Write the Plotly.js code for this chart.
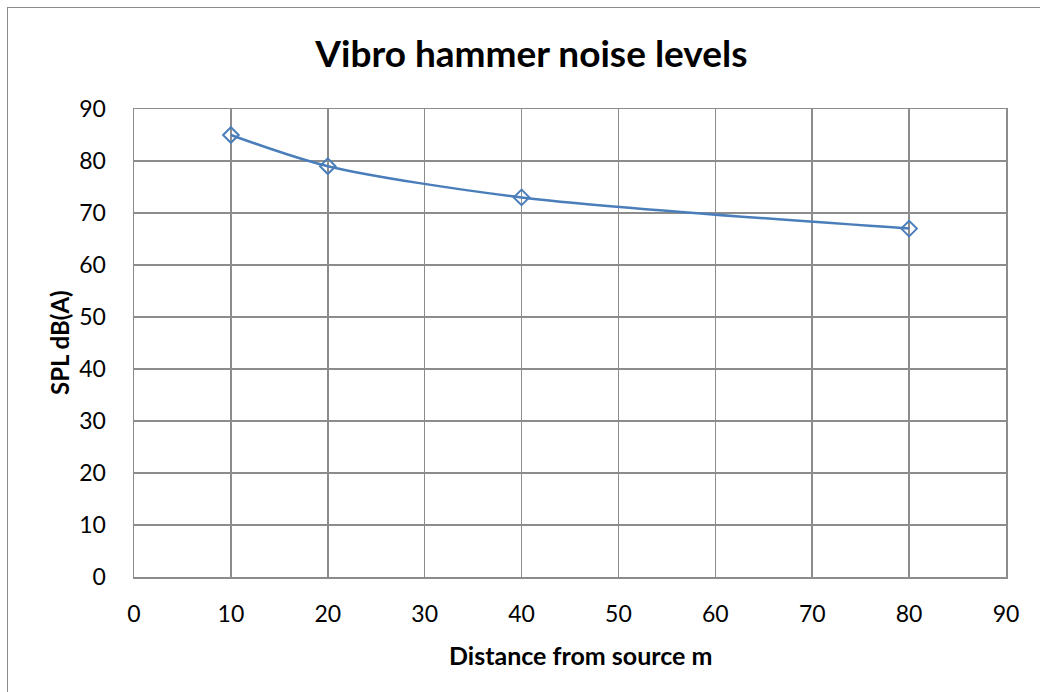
<!DOCTYPE html>
<html><head><meta charset="utf-8">
<script src="https://cdn.plot.ly/plotly-3.0.1.min.js"></script>
<style>
html,body{margin:0;padding:0;overflow:hidden;background:#fff;}
#frame{position:absolute;left:7px;top:7px;width:1200px;height:900px;border:1.5px solid #8c8c8c;box-sizing:border-box;}
#chart{position:absolute;left:0;top:0;width:1040px;height:692px;}
</style></head>
<body>
<div id="frame"></div>
<div id="chart"></div>
<script>
const distance = [10, 20, 40, 80];
const spl = [85, 79, 73, 67];
const xTicks = [0, 10, 20, 30, 40, 50, 60, 70, 80, 90];
const yTicks = [0, 10, 20, 30, 40, 50, 60, 70, 80, 90];
const chartTitle = 'Vibro hammer noise levels';
const xTitle = 'Distance from source m';
const yTitle = 'SPL dB(A)';

const font = "Lato, 'Open Sans', sans-serif";
const trace = {
  x: distance, y: spl, type: 'scatter', mode: 'lines+markers',
  line: {color: '#4a7ebb', width: 2.5, shape: 'spline', smoothing: 0.8},
  marker: {symbol: 'diamond-open', size: 12, color: '#4a7ebb', line: {width: 2, color: '#4a7ebb'}},
  hoverinfo: 'x+y'
};
const layout = {
  width: 1040, height: 692,
  paper_bgcolor: 'rgba(0,0,0,0)', plot_bgcolor: '#fff',
  margin: {l: 134, r: 34, t: 109, b: 115},
  showlegend: false,
  title: {text: '<b>' + chartTitle + '</b>', font: {family: font, size: 37, color: '#000'}, x: 0.511, xanchor: 'center', y: 0.922, yanchor: 'middle'},
  xaxis: {
    range: [0, 90], tickvals: xTicks, ticktext: xTicks.map(String),
    showgrid: true, gridcolor: '#8c8c8c', gridwidth: 1.5,
    showline: true, linecolor: '#8c8c8c', linewidth: 1.5, mirror: true,
    zeroline: false, ticks: '', ticklabelstandoff: 16,
    tickfont: {family: font, size: 23, color: '#000'}
  },
  yaxis: {
    range: [0, 90], tickvals: yTicks, ticktext: yTicks.map(String),
    showgrid: true, gridcolor: '#8c8c8c', gridwidth: 1.5,
    showline: true, linecolor: '#8c8c8c', linewidth: 1.5, mirror: true,
    zeroline: false, ticks: '', ticklabelstandoff: 22,
    tickfont: {family: font, size: 23, color: '#000'}
  },
  annotations: [
    {text: '<b>' + xTitle + '</b>', xref: 'paper', yref: 'paper', x: (580 - 134) / 872, y: -(655 - 577) / 468,
     xanchor: 'center', yanchor: 'middle', showarrow: false, font: {family: font, size: 25, color: '#000'}},
    {text: '<b>' + yTitle + '</b>', xref: 'paper', yref: 'paper', x: -(134 - 59) / 872, y: (577 - 343) / 468,
     xanchor: 'center', yanchor: 'middle', textangle: -90, showarrow: false, font: {family: font, size: 24, color: '#000'}}
  ]
};
Plotly.newPlot('chart', [trace], layout, {displayModeBar: false, staticPlot: true});
</script>
</body></html>
